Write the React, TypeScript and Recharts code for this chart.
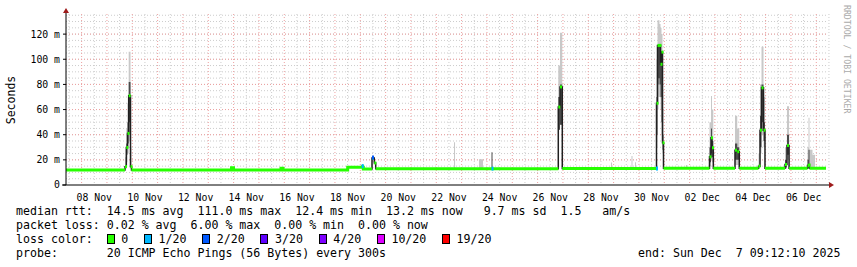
import React from 'react';
import { ComposedChart, Area, Line, Scatter, XAxis, YAxis, CartesianGrid } from 'recharts';

// time axis: days since 07 Nov 2025 00:00
const START_DAY = 0.3835; // 07 Nov 09:12:10
const END_DAY = 30.3835; // 07 Dec 09:12:10

const xTickDays = [1.5, 3.5, 5.5, 7.5, 9.5, 11.5, 13.5, 15.5, 17.5, 19.5, 21.5, 23.5, 25.5, 27.5, 29.5];
const xTickLabels = ['08 Nov', '10 Nov', '12 Nov', '14 Nov', '16 Nov', '18 Nov', '20 Nov', '22 Nov',
  '24 Nov', '26 Nov', '28 Nov', '30 Nov', '02 Dec', '04 Dec', '06 Dec'];
const yTicks = [0, 20, 40, 60, 80, 100, 120];

// grid: gray every 12h / 5 ms, red every day / 20 ms
const minorDays = Array.from({ length: 31 }, (_, i) => i + 0.5);
const majorDays = Array.from({ length: 30 }, (_, i) => i + 1);
const minorMs = Array.from({ length: 27 }, (_, i) => (i + 1) * 5);
const majorMs = [20, 40, 60, 80, 100, 120];

// median rtt samples (ms); green = median drawn with 0 loss, null inside spikes
const day = [
  0.3835, 2.712, 2.764, 2.811, 2.858, 2.930, 2.969,
  6.917, 6.995, 8.870, 8.949,
  11.503, 12.056, 12.119, 12.463, 12.553, 12.609,
  15.700, 15.740, 16.686, 16.844, 17.180, 17.219,
  19.816, 19.884, 19.974,
  21.897, 21.936, 22.706, 22.745, 22.844, 22.883,
  23.693, 23.732, 23.772, 23.811, 23.851, 23.890, 23.930, 23.969,
  24.857, 24.896,
  25.785, 25.845, 25.884, 25.935,
  26.791, 26.880, 26.961,
  27.719, 27.779, 27.838, 27.917, 27.975,
  28.765, 28.843, 28.925,
  29.653, 29.693, 29.732, 29.850, 29.950, 30.3835,
];
const medianMs = [
  12.0, 14.6, 29.8, 41, 71, 14.6, 12.0,
  13.8, 12.0, 13.4, 12.0,
  14.1, 15.0, 12.7, 21.5, 17.5, 13.0,
  13.0, 13.0, 13.0, 13.0, 13.0, 13.0,
  62, 78, 13.1,
  13.1, 13.1, 13.1, 13.1, 13.1, 13.1,
  65, 111, 111, 111, 96, 105.7, 33.6, 13.3,
  13.3, 13.3,
  22.4, 37.5, 29.6, 13.3,
  27.7, 26.5, 13.3,
  15.0, 43.6, 77.3, 43.6, 13.3,
  16.3, 31.4, 13.3,
  15.5, 16.0, 13.3, 13.3, 13.3, 13.3,
];
const greenMs = [
  12.0, 12.0, null, null, null, null, 12.0,
  13.8, 12.0, 13.4, 12.0,
  14.1, 14.1, 12.7, 12.7, null, 13.0,
  13.0, 13.0, 13.0, 13.0, 13.0, 13.0,
  13.0, null, 13.1,
  13.1, 13.1, 13.1, 13.1, 13.1, 13.1,
  13.1, null, null, null, null, null, null, 13.3,
  13.3, 13.3,
  13.3, null, null, 13.3,
  13.3, null, 13.3,
  13.3, null, null, null, 13.3,
  13.3, null, 13.3,
  13.3, null, 13.3, 13.3, 13.3, 13.3,
];
// smoke (spread of the 20 pings), light outer band and dark core band
const smokeLowMs = [
  null, 13, 18, 25, 35, 13, null,
  null, null, null, null,
  null, null, null, null, null, null,
  13, null, 13, null, null, null,
  44, 48, null,
  13, null, 13, null, 13, null,
  30, 60, 70, 70, 60, 40, 25, null,
  13, null,
  15, 20, 18, null,
  16, 16, null,
  13, 25, 40, 30, null,
  13, 20, null,
  13, 13, 13, 13, null, null,
];
const smokeHighMs = [
  null, 22, 45, 65, 106, 30, null,
  null, null, null, null,
  null, null, null, null, null, null,
  34, null, 20.5, null, null, null,
  95, 121, null,
  17.8, null, 23, null, 18, null,
  100, 131, 131, 128, 125, 120, 60, null,
  16, null,
  50, 70.7, 60, null,
  55, 45, null,
  25, 80, 110, 70, null,
  30, 62.7, null,
  30, 53.4, 28, 24, null, null,
];
const coreLowMs = [
  null, null, 24, 33, 50, null, null,
  null, null, null, null,
  null, null, null, null, null, null,
  null, null, null, null, 13, null,
  44, 48, null,
  null, null, null, null, null, null,
  40, 80, 85, 80, 70, 50, 28, null,
  null, null,
  18, 25, 22, null,
  20, 20, null,
  null, 30, 50, 35, null,
  14, 24, null,
  13.5, 14, null, null, null, null,
];
const coreHighMs = [
  null, null, 33, 50, 82, null, null,
  null, null, null, null,
  null, null, null, null, null, null,
  null, null, null, null, 26, null,
  70, 80, null,
  null, null, null, null, null, null,
  70, 111, 111, 111, 100, 106, 40, null,
  null, null,
  30, 45, 35, null,
  33, 30, null,
  null, 55, 80, 50, null,
  20, 40, null,
  20, 28, null, null, null, null,
];

// samples with packet loss (loss level index into lossColors)
const lossDay = [12.056, 12.463, 17.180, 23.672];
const lossMs = [15.0, 21.8, 13.0, 13.1];
const lossLevel = [1, 2, 1, 1];

const lossColors = ['#26ff00', '#00b8ff', '#0059ff', '#5e00ff', '#7e00ff', '#dd00ff', '#ff0000'];
const lossLabels = ['0', '1/20', '2/20', '3/20', '4/20', '10/20', '19/20'];

const rows = day.map((d, i) => ({
  day: d,
  median: medianMs[i],
  green: greenMs[i],
  spikeDot: greenMs[i] === medianMs[i] ? null : medianMs[i],
  smoke: [smokeLowMs[i] ?? medianMs[i], smokeHighMs[i] ?? medianMs[i]],
  core: [coreLowMs[i] ?? medianMs[i], coreHighMs[i] ?? medianMs[i]],
}));

const lossPoints = lossDay.map((d, i) => ({ day: d, ms: lossMs[i], level: lossLevel[i] }));

const MONO = 'DejaVu Sans Mono, monospace';

const GreenDot = (props: any) => {
  const { cx, cy, index, value } = props;
  if (cx == null || cy == null || value == null) return <g key={`gd-${index}`} />;
  return <rect key={`gd-${index}`} x={cx} y={cy - 1.5} width={2} height={3} fill="#26ff00" />;
};

const LossDot = (props: any) => {
  const { cx, cy, payload } = props;
  return <rect x={cx} y={cy - 2} width={2} height={4} fill={lossColors[payload.level]} />;
};

const Box = ({ color }: { color: string }) => (
  <span style={{
    display: 'inline-block', width: 8, height: 10, boxSizing: 'border-box', marginRight: 6.5,
    border: '1px solid #000', background: color, verticalAlign: -1,
  }} />
);

export default function App() {
  return (
    <div style={{ position: 'absolute', left: 0, top: 0, width: 857, height: 267, background: '#fff' }}>
      <ComposedChart width={857} height={210} data={rows} margin={{ top: 14, right: 31, bottom: 0, left: 0 }}>
        <CartesianGrid stroke="#cccccc" strokeDasharray="1 2" verticalValues={minorDays} horizontalValues={minorMs} />
        <CartesianGrid stroke="#eea0a0" strokeDasharray="1 2" verticalValues={majorDays} horizontalValues={majorMs} />
        <XAxis
          dataKey="day" type="number" domain={[START_DAY, END_DAY]} allowDataOverflow
          ticks={xTickDays} interval={0} height={25} tickLine={false} tickMargin={3}
          tickFormatter={(_v: number, i: number) => xTickLabels[i]}
          axisLine={{ stroke: '#000' }}
          tick={{ fontFamily: MONO, fontSize: 9.8, fill: '#000' }}
        />
        <YAxis
          type="number" domain={[0, 136]} allowDataOverflow ticks={yTicks} interval={0} width={66}
          tickSize={3} tickMargin={3} tickLine={{ stroke: '#000' }} axisLine={{ stroke: '#000' }}
          tickFormatter={(v: number) => (v === 0 ? '0' : `${v} m`)}
          tick={{ fontFamily: MONO, fontSize: 9.8, fill: '#000' }}
        />
        <Area dataKey="smoke" type="stepAfter" stroke="none" fill="#c8c8c8" fillOpacity={1} isAnimationActive={false} />
        <Area dataKey="core" type="stepAfter" stroke="none" fill="#4a4a4a" fillOpacity={1} isAnimationActive={false} />
        <Line dataKey="median" type="stepAfter" stroke="#202020" strokeWidth={1.5} dot={false} activeDot={false} isAnimationActive={false} />
        <Line dataKey="green" type="stepAfter" stroke="#26ff00" strokeWidth={3} dot={false} activeDot={false} isAnimationActive={false} />
        <Line dataKey="spikeDot" stroke="none" dot={GreenDot} activeDot={false} isAnimationActive={false} />
        <Scatter data={lossPoints} dataKey="ms" shape={LossDot} isAnimationActive={false} />
      </ComposedChart>

      <svg width={857} height={267} style={{ position: 'absolute', left: 0, top: 0, pointerEvents: 'none' }}>
        <line x1={62} y1={185} x2={66} y2={185} stroke="#000" />
        <line x1={826} y1={185} x2={830} y2={185} stroke="#000" />
        <polygon points="829,182 834,185 829,188" fill="#9e1b1b" />
        <line x1={66} y1={10} x2={66} y2={14} stroke="#000" />
        <polygon points="63,13 66,8 69,13" fill="#9e1b1b" />
        <text transform="translate(15,100) rotate(-90)" textAnchor="middle" fontFamily={MONO} fontSize={11.5} fill="#000">Seconds</text>
        <text transform="translate(843.5,5) rotate(90)" fontFamily={MONO} fontSize={8.2} fill="#aaaaaa">RRDTOOL / TOBI OETIKER</text>
      </svg>

      <div style={{
        position: 'absolute', left: 16, top: 204, fontFamily: MONO, fontSize: 11.6,
        lineHeight: '14px', whiteSpace: 'pre', color: '#000',
      }}>
        <div>median rtt:  14.5 ms avg  111.0 ms max  12.4 ms min  13.2 ms now   9.7 ms sd  1.5   am/s</div>
        <div>packet loss: 0.02 % avg  6.00 % max  0.00 % min  0.00 % now</div>
        <div>
          {'loss color:  '}
          {lossLabels.map((l, i) => (
            <span key={l} style={{ marginRight: 15.8 }}>
              <Box color={lossColors[i]} />
              {l}
            </span>
          ))}
        </div>
        <div>probe:       20 ICMP Echo Pings (56 Bytes) every 300s</div>
      </div>
      <div style={{
        position: 'absolute', left: 638, top: 246, fontFamily: MONO, fontSize: 11.6,
        lineHeight: '14px', whiteSpace: 'pre', color: '#000',
      }}>end: Sun Dec  7 09:12:10 2025</div>
    </div>
  );
}
